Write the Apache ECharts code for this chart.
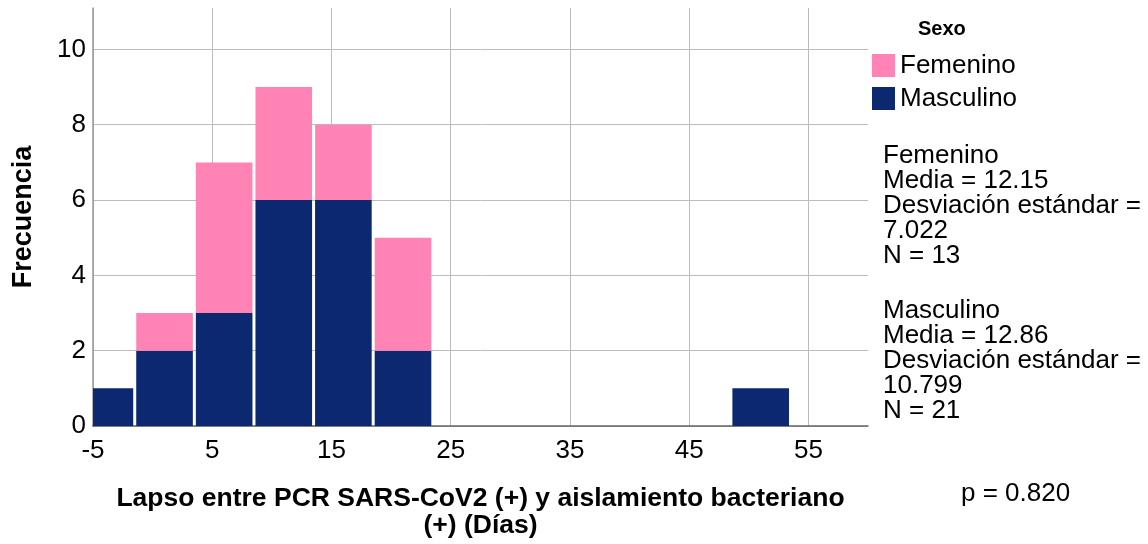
<!DOCTYPE html>
<html>
<head>
<meta charset="utf-8">
<script src="https://cdn.jsdelivr.net/npm/echarts@6/dist/echarts.min.js"></script>
<style>
  html, body { margin: 0; padding: 0; background: #fff; }
  #chart { width: 1148px; height: 544px; }
</style>
</head>
<body>
<div id="chart"></div>
<script>
// Histogram bins (centres, width in days)
const binCenters = [-4, 1, 6, 11, 16, 21, 26, 31, 36, 41, 46, 51];
const binWidth = 5;
const masculino = [1, 2, 3, 6, 6, 2, 0, 0, 0, 0, 0, 1];
const femenino  = [0, 1, 4, 3, 2, 3, 0, 0, 0, 0, 0, 0];
const seriesNames = ['Femenino', 'Masculino'];
const legendTitle = 'Sexo';
const statsFemenino = ['Femenino', 'Media = 12.15', 'Desviación estándar =', '7.022', 'N = 13'];
const statsMasculino = ['Masculino', 'Media = 12.86', 'Desviación estándar =', '10.799', 'N = 21'];
const pText = 'p = 0.820';
const xTitle = 'Lapso entre PCR SARS-CoV2 (+) y aislamiento bacteriano\n(+) (Días)';
const yTitle = 'Frecuencia';

const FONT = "'Liberation Sans', Arial, sans-serif";
const GAP = 3;

function renderItem(params, api) {
  const c = api.value(0), b = api.value(1), v = api.value(2);
  if (!v) return;
  const p0 = api.coord([c - binWidth / 2, b]);
  const p1 = api.coord([c + binWidth / 2, b + v]);
  const cs = params.coordSys;
  const rect = echarts.graphic.clipRectByRect(
    { x: p0[0] + GAP / 2, y: p1[1], width: p1[0] - p0[0] - GAP, height: p0[1] - p1[1] },
    { x: cs.x, y: cs.y, width: cs.width, height: cs.height }
  );
  return rect && { type: 'rect', shape: rect, style: api.style() };
}

const chart = echarts.init(document.getElementById('chart'), null, { renderer: 'canvas' });
chart.setOption({
  animation: false,
  backgroundColor: '#fff',
  textStyle: { fontFamily: FONT },
  grid: { left: 93, right: 280, top: 8, bottom: 116, containLabel: false },
  xAxis: {
    type: 'value', min: -5, max: 60, interval: 10,
    axisLine: { show: true, onZero: false, lineStyle: { color: '#666', width: 1.5 } },
    axisTick: { show: false },
    axisLabel: { fontSize: 26, color: '#000', fontFamily: FONT, margin: 12, showMaxLabel: false },
    splitLine: { show: true, showMaxLine: false, lineStyle: { color: '#bcbcbc', width: 1 } },
    name: xTitle, nameLocation: 'middle', nameGap: 59,
    nameTextStyle: { fontSize: 26.5, fontWeight: 'bold', color: '#000', fontFamily: FONT, lineHeight: 27 }
  },
  yAxis: {
    type: 'value', min: 0, max: 11.1, interval: 2,
    axisLine: { show: true, onZero: false, lineStyle: { color: '#999', width: 1.5 } },
    axisTick: { show: false },
    axisLabel: { fontSize: 26, color: '#000', fontFamily: FONT, margin: 7, showMaxLabel: false },
    splitLine: { show: true, showMaxLine: false, lineStyle: { color: '#bcbcbc', width: 1 } },
    name: yTitle, nameLocation: 'middle', nameGap: 56,
    nameTextStyle: { fontSize: 27, fontWeight: 'bold', color: '#000', fontFamily: FONT }
  },
  legend: {
    data: seriesNames, orient: 'vertical', left: 872, top: 50,
    itemWidth: 23, itemHeight: 23, itemGap: 2, icon: 'rect', padding: 0,
    textStyle: { fontSize: 26, color: '#000', fontFamily: FONT, lineHeight: 23, padding: [8, 0, 0, 0] }
  },
  series: [
    {
      name: 'Masculino', type: 'custom', renderItem,
      itemStyle: { color: '#0B2870' },
      encode: { x: 0, y: 2 },
      data: binCenters.map((c, i) => [c, 0, masculino[i]])
    },
    {
      name: 'Femenino', type: 'custom', renderItem,
      itemStyle: { color: '#FF84B5' },
      encode: { x: 0, y: 2 },
      data: binCenters.map((c, i) => [c, masculino[i], femenino[i]])
    }
  ],
  graphic: [
    { type: 'text', left: 918, top: 19, style: { text: legendTitle, font: "bold 20px " + FONT, fill: '#000' } },
    { type: 'text', left: 883, top: 142.5, style: { text: statsFemenino.join('\n'), font: "26px " + FONT, lineHeight: 25, fill: '#000' } },
    { type: 'text', left: 883, top: 297.5, style: { text: statsMasculino.join('\n'), font: "26px " + FONT, lineHeight: 25, fill: '#000' } },
    { type: 'text', left: 961, top: 481, style: { text: pText, font: "26px " + FONT, lineHeight: 26, fill: '#000' } }
  ]
});
</script>
</body>
</html>
